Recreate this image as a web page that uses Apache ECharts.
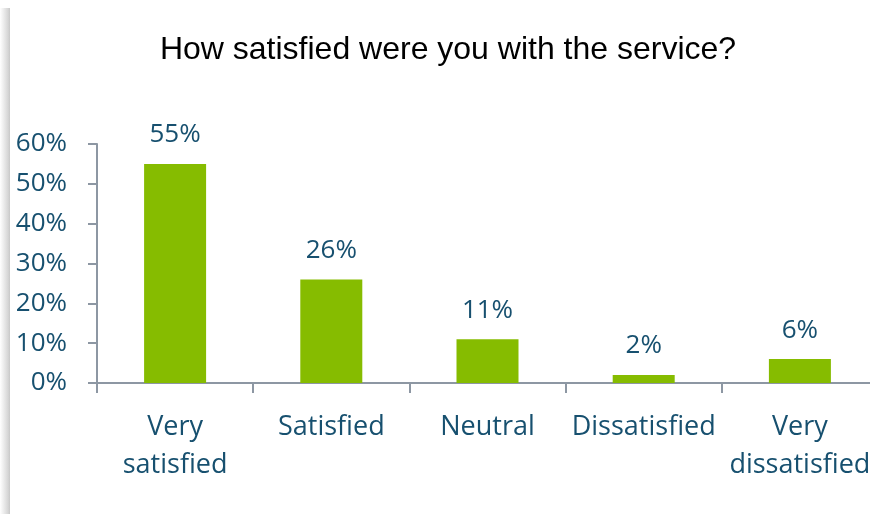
<!DOCTYPE html>
<html>
<head>
<meta charset="utf-8">
<script src="https://cdn.jsdelivr.net/npm/echarts@6/dist/echarts.min.js"></script>
<style>
  html, body { margin: 0; padding: 0; background: #ffffff; }
  #chart { width: 870px; height: 514px; }
</style>
</head>
<body>
<div id="chart"></div>
<script>
// Survey answers and their share of respondents (%)
const categories = ['Very\nsatisfied', 'Satisfied', 'Neutral', 'Dissatisfied', 'Very\ndissatisfied'];
const shares = [55, 26, 11, 2, 6];
const yTicks = [0, 10, 20, 30, 40, 50, 60];

const textColor = '#17506f';
const axisColor = '#8d97a3';
const barColor = '#86bc00';
const labelFont = '"Open Sans", "Noto Sans", sans-serif';

const chart = echarts.init(document.getElementById('chart'), null, { renderer: 'canvas' });

chart.setOption({
  animation: false,
  backgroundColor: '#ffffff',
  title: {
    text: 'How satisfied were you with the service?',
    left: 443,
    top: 29,
    textAlign: 'center',
    textStyle: {
      fontFamily: '"Liberation Sans", Arial, sans-serif',
      fontWeight: 'normal',
      fontSize: 32,
      color: '#000000'
    }
  },
  graphic: [
    {
      // soft shadow along the left edge of the card
      type: 'rect',
      shape: { x: 0, y: 8, width: 10, height: 506 },
      style: {
        fill: {
          type: 'linear', x: 0, y: 0, x2: 1, y2: 0,
          colorStops: [
            { offset: 0, color: '#ffffff' },
            { offset: 0.8, color: '#d6d6d6' },
            { offset: 1, color: '#c8c8c8' }
          ]
        }
      },
      z: -1
    }
  ],
  grid: {
    left: 97,
    top: 144,
    right: -8,
    height: 239,
    outerBoundsMode: 'none',
    containLabel: false
  },
  xAxis: {
    type: 'category',
    data: categories,
    axisLine: { lineStyle: { color: axisColor, width: 2 } },
    axisTick: { show: true, alignWithLabel: false, length: 10, lineStyle: { color: axisColor, width: 2 } },
    axisLabel: {
      color: textColor,
      fontFamily: labelFont,
      fontSize: 27,
      lineHeight: 38,
      margin: 25,
      interval: 0
    }
  },
  yAxis: {
    type: 'value',
    min: 0,
    max: 60,
    interval: 10,
    axisLine: { show: true, lineStyle: { color: axisColor, width: 2 } },
    axisTick: { show: true, length: 9, lineStyle: { color: axisColor, width: 2 } },
    splitLine: { show: false },
    axisLabel: {
      color: textColor,
      fontFamily: labelFont,
      fontSize: 26,
      margin: 30,
      formatter: function (v) { return yTicks.indexOf(v) >= 0 ? v + '%' : ''; }
    }
  },
  series: [
    {
      type: 'bar',
      data: shares,
      barWidth: 62,
      itemStyle: { color: barColor },
      label: {
        show: true,
        position: 'top',
        distance: 16,
        color: textColor,
        fontFamily: labelFont,
        fontSize: 26,
        formatter: '{c}%'
      }
    }
  ]
});
</script>
</body>
</html>
